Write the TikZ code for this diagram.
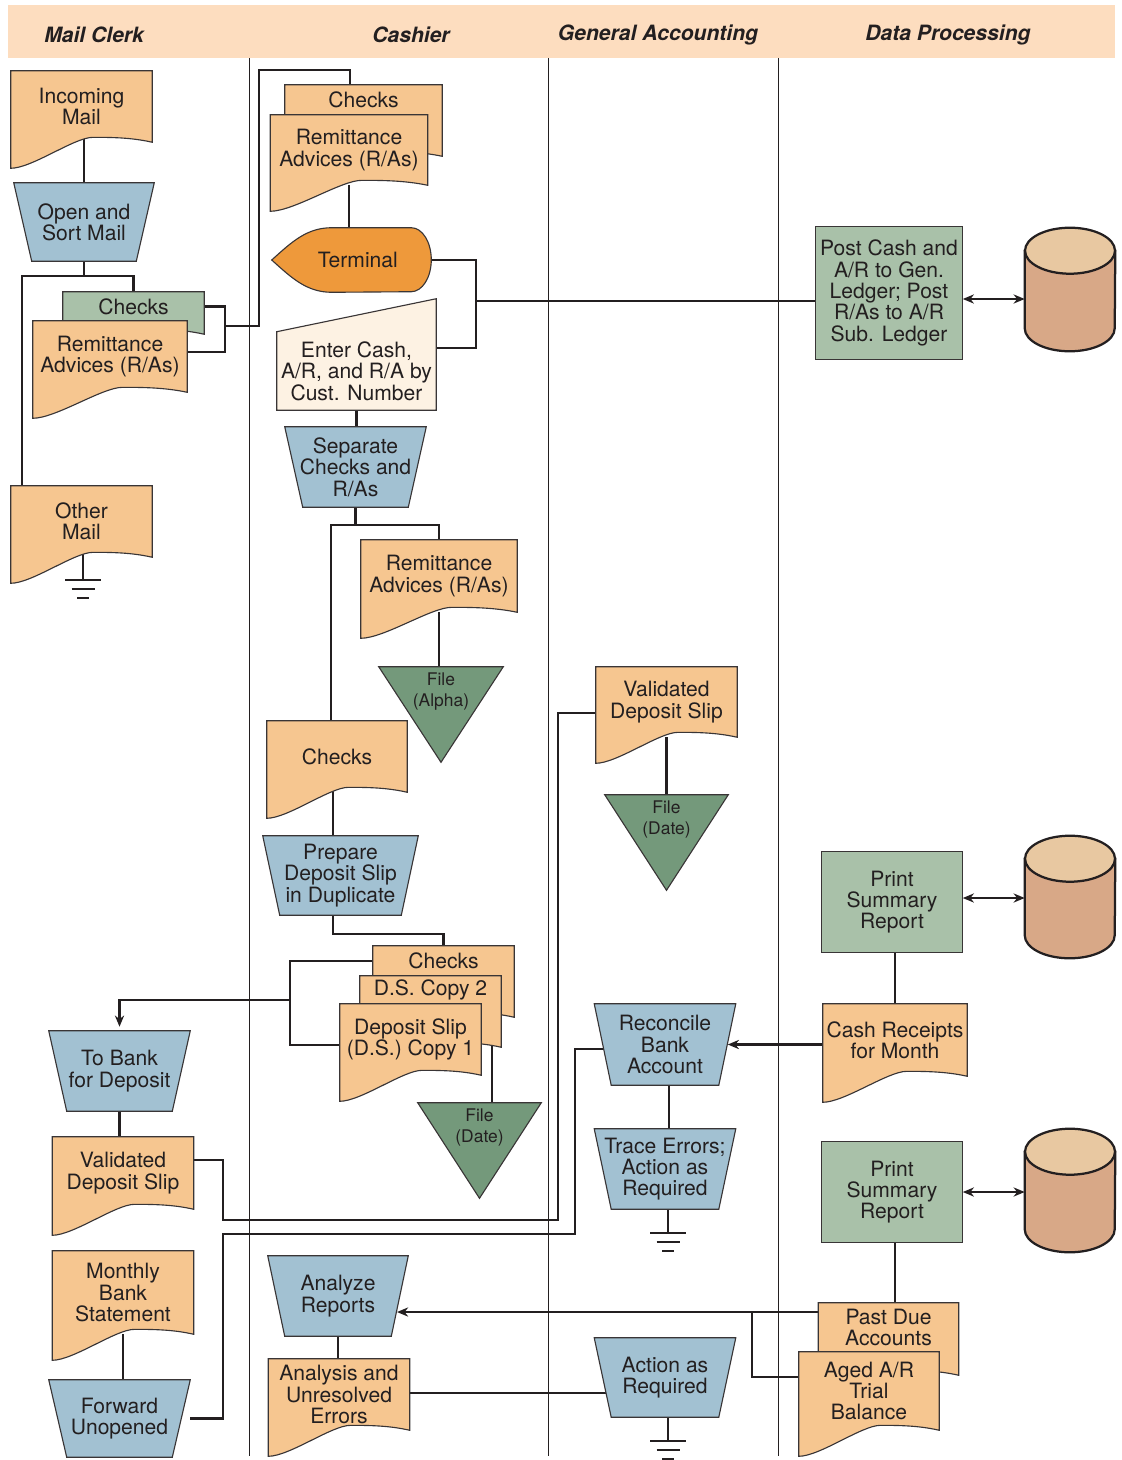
\documentclass[tikz,border=0pt]{standalone}
\usepackage{fontspec}
\setmainfont{TeX Gyre Heros}
\usepackage{xcolor}
\usetikzlibrary{arrows.meta, calc}

\definecolor{ink}{HTML}{231F20}
\definecolor{docpeach}{HTML}{F6C690}
\definecolor{opblue}{HTML}{A2C1D2}
\definecolor{procgreen}{HTML}{A9C1A9}
\definecolor{filegreen}{HTML}{74997B}
\definecolor{termorange}{HTML}{EE993B}
\definecolor{inputcream}{HTML}{FDF2E3}
\definecolor{headpeach}{HTML}{FDDDBF}
\definecolor{cyltop}{HTML}{E8C8A1}
\definecolor{cylbody}{HTML}{D8A887}

\newcommand{\pxu}{0.025cm}
\newcommand{\lbl}{\fontsize{15}{15.2}\selectfont}
\newcommand{\smalllbl}{\fontsize{12.4}{15.2}\selectfont}

\pgfdeclarelayer{edges}
\pgfdeclarelayer{shapes}
\pgfsetlayers{edges,shapes,main}

\begin{document}
\begin{tikzpicture}[x=\pxu, y=-\pxu, wh/.style 2 args={minimum width=#1*\pxu, minimum height=#2*\pxu}]
        \tikzstyle{lbl} = [rectangle, inner sep=0pt, align=center, text=ink, font=\lbl]
        \tikzstyle{small} = [lbl, font=\smalllbl]
        \tikzstyle{lanehead} = [inner sep=0pt, text=ink, font=\lbl\bfseries\itshape]
        \tikzstyle{outline} = [draw=ink!90, line width=0.8pt]
        \tikzstyle{disk} = [draw=ink, line width=1.6pt]
        \tikzstyle{lane} = [draw=ink, line width=0.6pt]
        \tikzstyle{flow} = [draw=ink, line width=1.7pt]
        \tikzstyle{flowarrow} = [flow, -{Stealth[length=2.8mm, width=2.3mm]}]
        \tikzstyle{twoway} = [draw=ink, line width=1.3pt, {Stealth[length=2.8mm, width=2.3mm]}-{Stealth[length=2.8mm, width=2.3mm]}]
        \tikzset{sink/.pic={\draw[ink, line width=2pt] (-18,0) -- (18,0) (-11.5,9) -- (11.5,9) (-6,18) -- (6,18);}}

        \useasboundingbox (0,0) rectangle (1121,1460);

        \node[lanehead] (hmail) at (94,35) {Mail Clerk};
        \node[lanehead] (hcash) at (411,35) {Cashier};
        \node[lanehead] (hgen) at (658,35) {General Accounting};
        \node[lanehead] (hdata) at (948,35) {Data Processing};

        \node[lbl, wh={141}{71}] (inmail) at (81.5,106.5) {Incoming\\Mail};
        \node[lbl, wh={140}{78}] (opensort) at (84,222) {Open and\\Sort Mail};
        \node[lbl, wh={141}{29}] (mcchecks) at (133.5,306.5) {Checks};
        \node[lbl, wh={154}{71}] (mcra) at (110,356.5) {Remittance\\Advices (R/As)};
        \node[lbl, wh={141}{71}] (othermail) at (81.5,521.5) {Other\\Mail};
        \node[lbl, wh={141}{80}] (tobank) at (119.5,1071) {To Bank\\for Deposit};
        \node[lbl, wh={141}{72}] (valslip) at (123,1173) {Validated\\Deposit Slip};
        \node[lbl, wh={141}{83}] (monthly) at (123,1292.5) {Monthly\\Bank\\Statement};
        \node[lbl, wh={141}{77}] (forward) at (119.5,1418.5) {Forward\\Unopened};

        \node[lbl, wh={157}{30}] (cachecks) at (363.5,100) {Checks};
        \node[lbl, wh={157}{70}] (cara) at (349,150) {Remittance\\Advices (R/As)};
        \node[lbl, wh={159}{64}] (terminal) at (351.5,260) {\hspace*{9pt}Terminal};
        \node[lbl, wh={159}{78}] (entercash) at (356.5,371) {Enter Cash,\\A/R, and R/A by\\Cust. Number};
        \node[lbl, wh={141}{80}] (separate) at (355.5,467) {Separate\\Checks and\\R/As};
        \node[lbl, wh={156}{72}] (cara2) at (439,576) {Remittance\\Advices (R/As)};
        \node[small, wh={124}{49}] (filealpha) at (441,691.5) {File\\(Alpha)};
        \node[lbl, wh={140}{71}] (cachecks2) at (337,756.5) {Checks};
        \node[lbl, wh={155}{79}] (prepare) at (340.5,875.5) {Prepare\\Deposit Slip\\in Duplicate};
        \node[lbl, wh={141}{30}] (stchecks) at (443.5,961) {Checks};
        \node[lbl, wh={141}{28}] (dscopy2) at (430.5,990) {D.S. Copy 2};
        \node[lbl, wh={141}{71}] (dscopy1) at (410.5,1039.5) {Deposit Slip\\(D.S.) Copy 1};
        \node[small, wh={123}{49}] (filedate1) at (479.5,1127.5) {File\\(Date)};
        \node[lbl, wh={140}{80}] (analyze) at (338,1296) {Analyze\\Reports};
        \node[lbl, wh={141}{71}] (analysis) at (339,1394.5) {Analysis and\\Unresolved\\Errors};

        \node[lbl, wh={141}{70}] (gavalslip) at (666.5,702) {Validated\\Deposit Slip};
        \node[small, wh={123}{49}] (filedate2) at (666.5,819.5) {File\\(Date)};
        \node[lbl, wh={141}{81}] (reconcile) at (665,1044.5) {Reconcile\\Bank\\Account};
        \node[lbl, wh={141}{80}] (trace) at (665,1169) {Trace Errors;\\Action as\\Required};
        \node[lbl, wh={141}{79}] (action) at (665,1377.5) {Action as\\Required};

        \node[lbl, wh={147}{132}] (postcash) at (889,293) {Post Cash and\\A/R to Gen.\\Ledger; Post\\R/As to A/R\\Sub. Ledger};
        \node[lbl, wh={90}{123}] (db1) at (1070,289.5) {};
        \node[lbl, wh={141}{100}] (print1) at (892,902) {Print\\Summary\\Report};
        \node[lbl, wh={90}{122}] (db2) at (1070,897) {};
        \node[lbl, wh={144}{72}] (cashrec) at (895,1040) {Cash Receipts\\for Month};
        \node[lbl, wh={141}{100}] (print2) at (892,1192) {Print\\Summary\\Report};
        \node[lbl, wh={90}{123}] (db3) at (1070,1190.5) {};
        \node[lbl, wh={140}{49}] (pastdue) at (888.5,1327.5) {Past Due\\Accounts};
        \node[lbl, wh={140}{78}] (aged) at (869,1391) {Aged A/R\\Trial\\Balance};

        \begin{pgfonlayer}{shapes}
        \fill[headpeach] (8,5) rectangle (1115,58);
        \foreach \nm/\dd/\cc in {inmail/0/docpeach, mcchecks/13/procgreen, mcra/0/docpeach, othermail/0/docpeach,
            valslip/0/docpeach, monthly/0/docpeach, cachecks/41/docpeach, cara/0/docpeach, cara2/0/docpeach,
            cachecks2/0/docpeach, stchecks/41/docpeach, dscopy2/43/docpeach, dscopy1/0/docpeach,
            analysis/0/docpeach, gavalslip/0/docpeach, cashrec/0/docpeach, pastdue/23/docpeach, aged/0/docpeach}
            \filldraw[fill=\cc, outline] let \p1=(\nm.north west), \p2=(\nm.south east), \n1={\x2-\x1},
                \n2={\y2-\dd*\pxu}, \n3={26*\pxu} in
                (\x1,\y1) -- (\x2,\y1) -- (\x2,\n2)
                .. controls ({\x1+0.85*\n1},{\n2+0.19*\n3}) and ({\x1+0.7*\n1},{\n2+0.19*\n3}) .. ({\x1+0.58*\n1},{\n2+0.19*\n3})
                .. controls ({\x1+0.45*\n1},{\n2+0.19*\n3}) and ({\x1+0.15*\n1},{\n2-\n3}) .. (\x1,{\n2-\n3}) -- cycle;
        \foreach \nm/\ii in {opensort/18, tobank/18, forward/18, separate/18, prepare/17, analyze/17,
            reconcile/17, trace/17, action/17}
            \filldraw[fill=opblue, outline] (\nm.north west) -- (\nm.north east) -- ([xshift=-\ii*\pxu]\nm.south east)
                -- ([xshift=\ii*\pxu]\nm.south west) -- cycle;
        \foreach \nm in {postcash, print1, print2}
            \filldraw[fill=procgreen, outline] (\nm.north west) rectangle (\nm.south east);
        \foreach \nm in {filealpha, filedate1, filedate2}
            \filldraw[fill=filegreen, outline] (\nm.north west) -- (\nm.north east) -- ([yshift=-46*\pxu]\nm.south) -- cycle;
        \filldraw[fill=termorange, outline] (terminal.west) .. controls +(20,-18) and +(-25,0) .. ([xshift=60*\pxu]terminal.north west)
            -- ([xshift=-20*\pxu]terminal.north east) arc[start angle=90, end angle=-90, x radius=20*\pxu, y radius=32*\pxu]
            -- ([xshift=60*\pxu]terminal.south west) .. controls +(-25,0) and +(20,18) .. (terminal.west) -- cycle;
        \filldraw[fill=inputcream, outline] (entercash.south west) -- (entercash.north west)
            -- ([yshift=33*\pxu]entercash.north east) -- (entercash.south east) -- cycle;
        \foreach \nm in {db1, db2, db3} {
            \filldraw[fill=cylbody, disk] ([yshift=-23*\pxu]\nm.north west) -- ([yshift=23*\pxu]\nm.south west)
                arc[start angle=180, end angle=360, x radius=45*\pxu, y radius=23*\pxu] -- ([yshift=-23*\pxu]\nm.north east) -- cycle;
            \filldraw[fill=cyltop, disk] ([yshift=-23*\pxu]\nm.north) ellipse[x radius=45*\pxu, y radius=23*\pxu];
        }
        \end{pgfonlayer}

        \begin{pgfonlayer}{edges}
        \foreach \lx in {249, 548, 778}
            \draw[lane] (\lx,58) -- (\lx,1456);

        \draw[flow] (inmail -| opensort) -- (opensort);
        \draw[flow] (opensort) -- (opensort |- 0,276);
        \draw[flow] (othermail.center -| 22,0) -- (22,276) -| (mcchecks);
        \draw[flow] (othermail.center -| 83,0) -- (83,580) coordinate (g1);
        \pic at (g1) {sink};
        \draw[flow] (mcchecks) -| (225,352) -| (mcra);
        \draw[flow] (225,326) -- (259,326) -- (259,70) -- (350,70) -- (cachecks.center -| 350,0);

        \draw[flow] (cara) -- (cara |- terminal);
        \draw[flow] (terminal) -| (476,348) -- (entercash |- 0,348);
        \draw[flow] (476,301) -- (postcash.center |- 0,301);
        \draw[twoway] (postcash.east |- 0,299) -- (db1.west |- 0,299);
        \draw[flow] (entercash) -- (entercash |- separate);
        \draw[flow] (separate) -- (separate |- 0,525) -- (331,525) -- (cachecks2.center -| 331,0);
        \draw[flow] (separate |- 0,525) -| (cara2);
        \draw[flow] (cara2) -- (cara2 |- filealpha);
        \draw[flow] (cachecks2.center -| 333,0) -- (prepare.center -| 333,0);
        \draw[flow] (prepare.center -| 333,0) -- (333,934) -| (stchecks);
        \draw[flow] (stchecks) -- (stchecks -| 290,0) -- (290,1045) -- (dscopy1.center |- 0,1045);
        \draw[flowarrow] (290,1000) -| ([yshift=4*\pxu]tobank.north);
        \draw[flow] (dscopy2.center -| 492,0) -- (filedate1.center -| 492,0);

        \draw[flow] (tobank) -- (tobank |- valslip);
        \draw[flow] (valslip.center |- 0,1160) -- (223,1160) -- (223,1220) -- (558,1220) -- (558,713) -- (gavalslip.center |- 0,713);
        \draw[flow] (monthly) -- (monthly |- forward);
        \draw[flow] (forward) -| (223,1234) -- (575,1234) -- (575,1049) -- (reconcile.center |- 0,1049);

        \draw[flow] (gavalslip) -- (gavalslip |- filedate2);
        \draw[flow] (reconcile.center -| 669,0) -- (trace.center -| 669,0);
        \draw[flow] (trace.center -| 668,0) -- (668,1233) coordinate (g2);
        \pic at (g2) {sink};

        \draw[twoway] (print1.east |- 0,898) -- (db2.west |- 0,898);
        \draw[flow] (print1.center -| 895,0) -- (cashrec.center -| 895,0);
        \draw[flowarrow] (cashrec.center |- reconcile.east) -- ([xshift=-8*\pxu]reconcile.east);
        \draw[twoway] (print2.east |- 0,1192) -- (db3.west |- 0,1192);
        \draw[flow] (print2.center -| 895,0) -- (pastdue.center -| 895,0);
        \coordinate (anin) at (397,1312);
        \draw[flowarrow] (pastdue.center |- anin) -- (anin);
        \draw[flow] (752,1312) -- (752,1377) -- (aged.center |- 0,1377);
        \draw[flow] (analyze) -- (analyze |- analysis);
        \draw[flow] (analysis.center |- 0,1393) -- (action.center |- 0,1393);
        \draw[flow] (action.center -| 668,0) -- (668,1441) coordinate (g3);
        \pic at (g3) {sink};
        \end{pgfonlayer}
    \end{tikzpicture}
\end{document}
